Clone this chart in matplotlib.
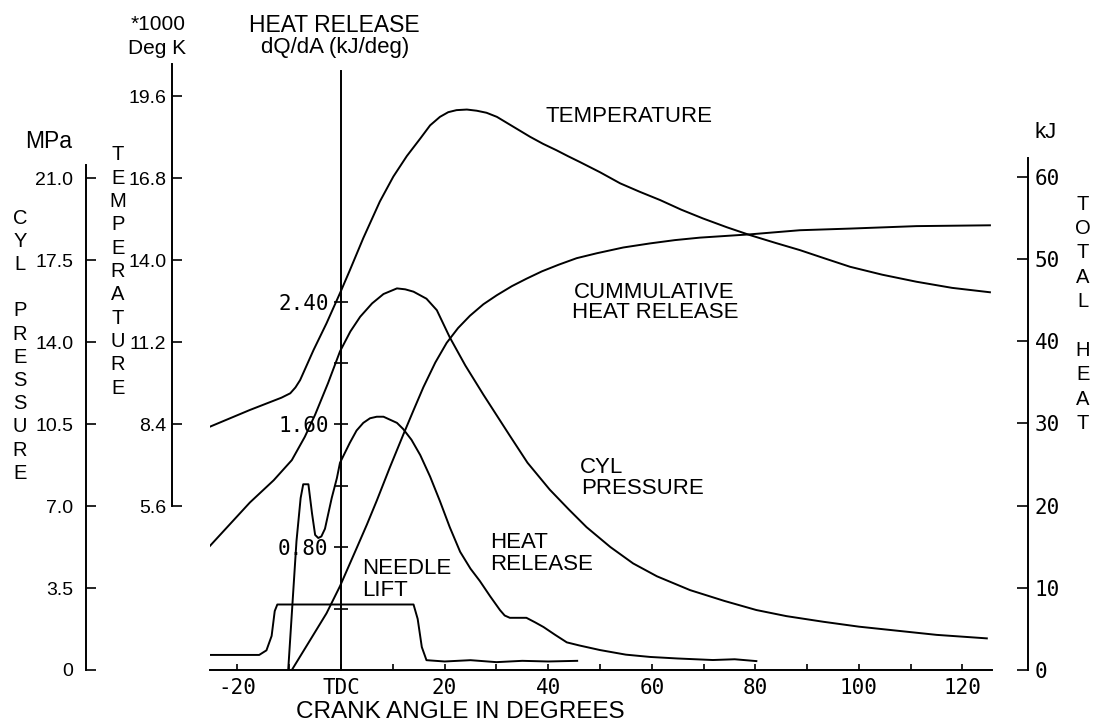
import matplotlib
matplotlib.use('Agg')
import matplotlib.pyplot as plt

plt.rcParams['font.family'] = ['Liberation Sans', 'DejaVu Sans']
MONO = 'DejaVu Sans Mono'

# values, crank angle in degrees (0 = TDC)
temp_angle = [-25.3, -17.6, -11.5, -9.8, -8.8, -7.9, -5.3, -2.8, 0.0, 1.7, 4.3, 7.5, 10.1,
              12.7, 15.3, 17.2, 19.1, 20.7, 22.3, 24.3, 26.2, 28.1, 30.1, 33.3, 36.5, 39.0,
              41.6, 43.8, 46.1, 50.0, 53.9, 57.7, 61.6, 65.7, 69.9, 74.5, 79.0, 84.0, 88.6,
              93.5, 98.3, 104.5, 111.1, 118.0, 125.3]
temp_k1000 = [8.31, 8.88, 9.30, 9.45, 9.65, 9.90, 10.93, 11.84, 12.95, 13.65, 14.75, 16.00,
              16.85, 17.55, 18.15, 18.60, 18.89, 19.05, 19.12, 19.14, 19.10, 19.03, 18.89,
              18.55, 18.21, 17.97, 17.75, 17.55, 17.35, 17.00, 16.62, 16.33, 16.05, 15.72,
              15.42, 15.12, 14.85, 14.58, 14.34, 14.05, 13.77, 13.50, 13.26, 13.05, 12.90]

press_angle = [-25.3, -17.6, -13.0, -9.5, -7.0, -5.0, -2.5, -0.2, 1.8, 3.7, 6.0, 8.2, 10.8,
               12.4, 14.0, 16.5, 18.5, 21.0, 24.0, 27.5, 32.6, 36.0, 40.3, 44.0, 47.4, 52.0,
               56.4, 61.0, 67.4, 74.0, 80.2, 86.0, 93.1, 100.0, 106.0, 115.0, 124.7]
press_mpa = [5.30, 7.15, 8.10, 8.96, 9.95, 10.90, 12.25, 13.60, 14.45, 15.08, 15.65, 16.05,
             16.29, 16.25, 16.15, 15.85, 15.36, 14.20, 13.00, 11.75, 10.00, 8.85, 7.70, 6.85,
             6.10, 5.25, 4.55, 4.00, 3.41, 2.95, 2.56, 2.30, 2.06, 1.85, 1.71, 1.50, 1.35]

hr_angle = [-10.2, -9.4, -8.6, -7.8, -7.3, -6.3, -5.6, -5.0, -4.4, -3.8, -3.1, -1.8, -0.8,
            -0.2, 1.7, 3.0, 4.3, 5.6, 6.9, 8.2, 9.5, 10.8, 12.0, 13.6, 15.3, 17.2, 19.1, 21.0,
            23.0, 25.0, 26.8, 28.8, 30.7, 31.6, 32.6, 34.0, 35.8, 37.5, 39.1, 41.3, 43.6,
            46.0, 50.0, 55.0, 59.7, 65.0, 71.8, 76.0, 80.2]
hr_kj_deg = [0.0, 0.42, 0.84, 1.12, 1.21, 1.21, 1.02, 0.88, 0.86, 0.87, 0.92, 1.12, 1.25,
             1.35, 1.48, 1.56, 1.61, 1.64, 1.65, 1.65, 1.63, 1.61, 1.57, 1.50, 1.40, 1.26,
             1.10, 0.93, 0.77, 0.66, 0.58, 0.48, 0.39, 0.355, 0.34, 0.34, 0.34, 0.31, 0.28,
             0.23, 0.18, 0.16, 0.13, 0.10, 0.085, 0.075, 0.065, 0.07, 0.058]

cum_angle = [-9.5, -6.0, -2.8, -0.2, 1.4, 3.0, 5.0, 6.9, 9.4, 12.0, 14.0, 15.9, 18.2, 20.4,
             22.6, 24.9, 27.5, 30.1, 33.0, 35.8, 38.8, 42.0, 45.5, 49.4, 54.5, 59.7, 64.5,
             69.3, 79.0, 88.6, 98.3, 111.1, 125.3]
cum_kj = [0.0, 3.6, 6.9, 10.2, 12.5, 14.8, 17.7, 20.6, 24.6, 28.6, 31.6, 34.4, 37.4, 39.8,
          41.6, 43.1, 44.5, 45.6, 46.7, 47.6, 48.5, 49.3, 50.1, 50.7, 51.4, 51.9, 52.3, 52.6,
          53.0, 53.5, 53.7, 54.0, 54.1]

# needle lift has no scale on the chart: 1.0 = full lift
needle_angle = [-25.3, -15.8, -14.4, -13.4, -12.8, -12.3, 14.0, 14.8, 15.6, 16.5, 20.0,
                25.0, 30.0, 35.0, 40.0, 45.6]
needle_lift = [0.23, 0.23, 0.30, 0.52, 0.90, 1.0, 1.0, 0.78, 0.35, 0.15, 0.13, 0.15, 0.12,
               0.14, 0.13, 0.14]

W, H = 1098, 724


def fx(px):
    return px / W


def fy(py):
    return 1 - py / H


fig = plt.figure(figsize=(W / 100, H / 100), dpi=100)
fig.patch.set_facecolor('white')

# plot area in pixels: x 210..992, y 670 (bottom) .. 60 (top)
left, right, bottom, top = 210, 992, 670, 60
axP = fig.add_axes([fx(left), fy(bottom), fx(right - left), (bottom - top) / H])
axT = axP.twinx()
axH = axP.twinx()
axQ = axP.twinx()
axN = axP.twinx()

axP.set_xlim(-25.3, 125.7)
axP.set_ylim(0, 26.04)
axT.set_ylim(0, 26.04 * 0.8)
axH.set_ylim(0, 610 / 153.5)
axQ.set_ylim(0, 610 / 8.22)
axN.set_ylim(0, 610 / 65.5)

for a in (axP, axT, axH, axQ, axN):
    for s in a.spines.values():
        s.set_visible(False)
        s.set_linewidth(1.4)

lw = 1.4
axT.plot(temp_angle, temp_k1000, color='black', lw=lw)
axP.plot(press_angle, press_mpa, color='black', lw=lw)
axH.plot(hr_angle, hr_kj_deg, color='black', lw=lw)
axQ.plot(cum_angle, cum_kj, color='black', lw=lw)
axN.plot(needle_angle, needle_lift, color='black', lw=lw)
axN.set_yticks([])

# crank angle axis
axP.spines['bottom'].set_visible(True)
xt = list(range(-20, 121, 10))
xl = ['TDC' if v == 0 else (str(v) if v % 20 == 0 else '') for v in xt]
axP.set_xticks(xt, xl, fontfamily=MONO, fontsize=15)
axP.tick_params(axis='x', direction='in', length=4, width=1.2, pad=6)

# cylinder pressure axis (far left)
axP.spines['left'].set_visible(True)
axP.spines['left'].set_position(('axes', (86 - left) / (right - left)))
axP.spines['left'].set_bounds(0, 21.55)
axP.set_yticks([0, 3.5, 7.0, 10.5, 14.0, 17.5, 21.0],
               ['0', '3.5', '7.0', '10.5', '14.0', '17.5', '21.0'], fontsize=14)
axP.tick_params(axis='y', direction='in', length=7, width=1.2, pad=9)

# temperature axis
axT.yaxis.tick_left()
axT.spines['left'].set_visible(True)
axT.spines['left'].set_position(('axes', (172 - left) / (right - left)))
axT.spines['left'].set_bounds(5.6, 20.7)
axT.set_yticks([5.6, 8.4, 11.2, 14.0, 16.8, 19.6],
               ['5.6', '8.4', '11.2', '14.0', '16.8', '19.6'], fontsize=14)
axT.tick_params(axis='y', direction='in', length=7, width=1.2, pad=4)

# heat release rate axis on the TDC line
axH.yaxis.tick_left()
axH.spines['left'].set_visible(True)
axH.spines['left'].set_position(('data', 0))
axH.spines['left'].set_bounds(0, 3.9)
axH.set_yticks([0.8, 1.6, 2.4], ['0.80', '1.60', '2.40'], fontfamily=MONO, fontsize=15)
axH.set_yticks([0.4, 1.2, 2.0], minor=True)
axH.tick_params(axis='y', which='both', direction='inout', length=10, width=1.2, pad=4)

# total heat axis (right)
axQ.spines['right'].set_visible(True)
axQ.spines['right'].set_position(('axes', (1028 - left) / (right - left)))
axQ.spines['right'].set_bounds(0, 62.3)
axQ.set_yticks(list(range(0, 61, 10)), [str(v) for v in range(0, 61, 10)],
               fontfamily=MONO, fontsize=15)
axQ.tick_params(axis='y', direction='in', length=8, width=1.2, pad=5)

# axis titles
fig.text(fx(186), fy(25), '*1000', ha='right', va='center', fontsize=15)
fig.text(fx(186), fy(48), 'Deg K', ha='right', va='center', fontsize=15)
fig.text(fx(334), fy(25), 'HEAT RELEASE', ha='center', va='center', fontsize=16.5)
fig.text(fx(335), fy(48), 'dQ/dA (kJ/deg)', ha='center', va='center', fontsize=16)
fig.text(fx(49), fy(142), 'MPa', ha='center', va='center', fontsize=16.5)
fig.text(fx(1046), fy(133), 'kJ', ha='center', va='center', fontsize=16)
fig.text(fx(460), fy(712), 'CRANK ANGLE IN DEGREES', ha='center', va='center', fontsize=17.5)

for i, ch in enumerate('CYL PRESSURE'):
    fig.text(fx(20), fy(218 + i * 23.2), ch, ha='center', va='center', fontsize=14.5)
for i, ch in enumerate('TEMPERATURE'):
    fig.text(fx(118), fy(155 + i * 23.3), ch, ha='center', va='center', fontsize=14.5)
for i, ch in enumerate('TOTAL HEAT'):
    fig.text(fx(1083), fy(204 + i * 24.4), ch, ha='center', va='center', fontsize=14.5)

# curve labels
fs = 16
fig.text(fx(545), fy(116), 'TEMPERATURE', ha='left', va='center', fontsize=fs)
fig.text(fx(574), fy(292), 'CUMMULATIVE', ha='left', va='center', fontsize=fs)
fig.text(fx(572), fy(313), 'HEAT RELEASE', ha='left', va='center', fontsize=fs)
fig.text(fx(580), fy(467), 'CYL', ha='left', va='center', fontsize=fs)
fig.text(fx(581), fy(488), 'PRESSURE', ha='left', va='center', fontsize=fs)
fig.text(fx(490), fy(543), 'HEAT', ha='left', va='center', fontsize=fs)
fig.text(fx(490), fy(565), 'RELEASE', ha='left', va='center', fontsize=fs)
fig.text(fx(362), fy(569), 'NEEDLE', ha='left', va='center', fontsize=fs)
fig.text(fx(362), fy(590), 'LIFT', ha='left', va='center', fontsize=fs)

fig.savefig('out.png', dpi=100)
